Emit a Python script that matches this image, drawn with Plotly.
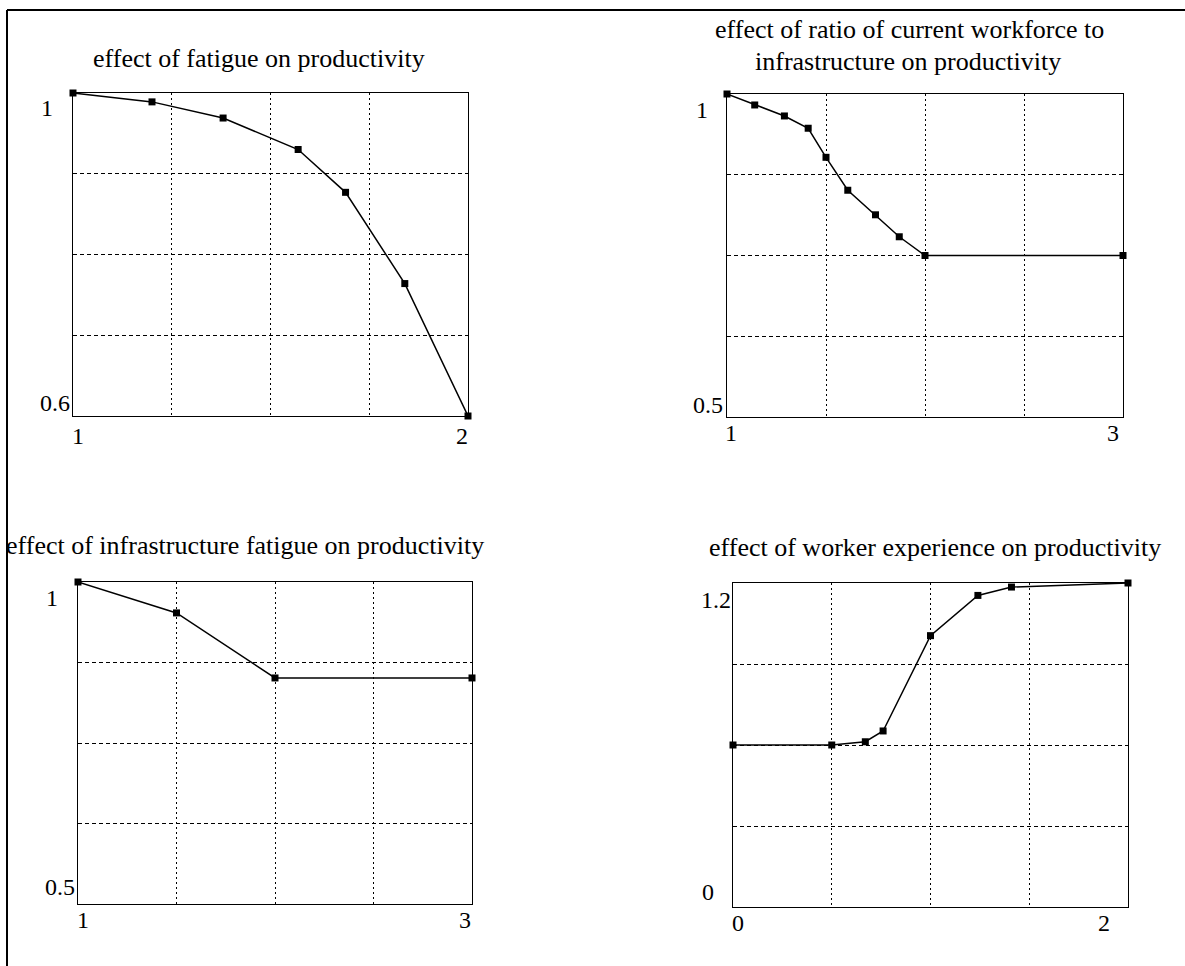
import plotly.graph_objects as go

W, H = 1185, 966

# ---- data ----
fatigue_x = [1.0, 1.2, 1.38, 1.57, 1.69, 1.84, 2.0]
fatigue_y = [1.0, 0.989, 0.969, 0.930, 0.877, 0.764, 0.6]

ratio_x = [1.0, 1.14, 1.29, 1.41, 1.5, 1.61, 1.75, 1.87, 2.0, 3.0]
ratio_y = [1.0, 0.983, 0.966, 0.947, 0.902, 0.851, 0.813, 0.779, 0.75, 0.75]

infra_x = [1.0, 1.5, 2.0, 3.0]
infra_y = [1.0, 0.952, 0.851, 0.851]

exper_x = [0.0, 0.5, 0.67, 0.76, 1.0, 1.24, 1.41, 2.0]
exper_y = [0.6, 0.6, 0.612, 0.652, 1.005, 1.154, 1.185, 1.2]

titles = [
    "effect of fatigue on productivity",
    "effect of ratio of current workforce to",
    "infrastructure on productivity",
    "effect of infrastructure fatigue on productivity",
    "effect of worker experience on productivity",
]
x_ranges = [[1, 2], [1, 3], [1, 3], [0, 2]]
y_ranges = [[0.6, 1], [0.5, 1], [0.5, 1], [0, 1.2]]
y_labels = [["1", "0.6"], ["1", "0.5"], ["1", "0.5"], ["1.2", "0"]]
x_labels = [["1", "2"], ["1", "3"], ["1", "3"], ["0", "2"]]


def px(x):
    return x / W


def py(y):
    return 1 - y / H


# plot boxes in pixels: (left, right, top, bottom)
boxes = [(73, 468, 93, 416), (727, 1123, 94, 417), (78, 472, 582, 904), (733, 1128, 583, 907)]

series = [(fatigue_x, fatigue_y), (ratio_x, ratio_y), (infra_x, infra_y), (exper_x, exper_y)]

fig = go.Figure()
FONT = "Liberation Serif"
INK = "#000000"

layout = dict(
    width=W, height=H, margin=dict(l=0, r=0, t=0, b=0),
    paper_bgcolor="white", plot_bgcolor="white", showlegend=False,
    font=dict(family=FONT, color=INK),
)

for i, ((l, r, t, b), (xs, ys)) in enumerate(zip(boxes, series)):
    n = "" if i == 0 else str(i + 1)
    xa, ya = "x" + n, "y" + n
    fig.add_trace(go.Scatter(
        x=xs, y=ys, mode="lines+markers", xaxis=xa, yaxis=ya,
        line=dict(color=INK, width=1.5),
        marker=dict(symbol="square", size=7, color=INK),
        cliponaxis=False,
    ))
    x0, x1 = x_ranges[i]
    y0, y1 = y_ranges[i]
    xt = [x0 + (x1 - x0) * k / 4 for k in (1, 2, 3)]
    yt = [y0 + (y1 - y0) * k / 4 for k in (1, 2, 3)]
    layout["xaxis" + n] = dict(
        domain=[px(l), px(r)], range=[x0, x1], anchor=ya,
        showline=True, mirror=True, linecolor=INK, linewidth=1,
        showgrid=True, gridcolor=INK, gridwidth=1, griddash="2px,3px",
        tickvals=xt, showticklabels=False, ticks="", zeroline=False,
    )
    layout["yaxis" + n] = dict(
        domain=[py(b), py(t)], range=[y0, y1], anchor=xa,
        showline=True, mirror=True, linecolor=INK, linewidth=1,
        showgrid=True, gridcolor=INK, gridwidth=1, griddash="4px,3px",
        tickvals=yt, showticklabels=False, ticks="", zeroline=False,
    )

fig.update_layout(**layout)

ann = []


def add_text(text, x, y, size, xanchor="center", yanchor="middle"):
    ann.append(dict(text=text, x=px(x), y=py(y), xref="paper", yref="paper",
                    xanchor=xanchor, yanchor=yanchor, showarrow=False,
                    font=dict(family=FONT, size=size, color=INK)))


# titles
TT = 26
add_text(titles[0], 259, 59, TT)
add_text(titles[1], 910, 30, TT)
add_text(titles[2], 908, 61, TT)
add_text(titles[3], 245, 545, TT)
add_text(titles[4], 935, 547, TT)

# axis end labels
TS = 24
add_text(y_labels[0][0], 47, 108, TS)
add_text(y_labels[0][1], 72, 403, TS, xanchor="right")
add_text(x_labels[0][0], 78, 436, TS)
add_text(x_labels[0][1], 462, 436, TS)

add_text(y_labels[1][0], 702, 110, TS)
add_text(y_labels[1][1], 725, 405, TS, xanchor="right")
add_text(x_labels[1][0], 731, 433, TS)
add_text(x_labels[1][1], 1113, 433, TS)

add_text(y_labels[2][0], 52, 598, TS)
add_text(y_labels[2][1], 77, 887, TS, xanchor="right")
add_text(x_labels[2][0], 83, 920, TS)
add_text(x_labels[2][1], 465, 920, TS)

add_text(y_labels[3][0], 733, 600, TS, xanchor="right")
add_text(y_labels[3][1], 708, 892, TS)
add_text(x_labels[3][0], 738, 923, TS)
add_text(x_labels[3][1], 1104, 923, TS)

fig.update_layout(annotations=ann)

# frame lines (left and top) of the page
fig.update_layout(shapes=[
    dict(type="line", xref="paper", yref="paper", x0=px(7), x1=px(7), y0=0, y1=py(10),
         line=dict(color=INK, width=2)),
    dict(type="line", xref="paper", yref="paper", x0=px(7), x1=1, y0=py(10), y1=py(10),
         line=dict(color=INK, width=2)),
])

fig.write_html("out.html", config={"displayModeBar": False},
               post_script="document.body.style.margin='0';")
